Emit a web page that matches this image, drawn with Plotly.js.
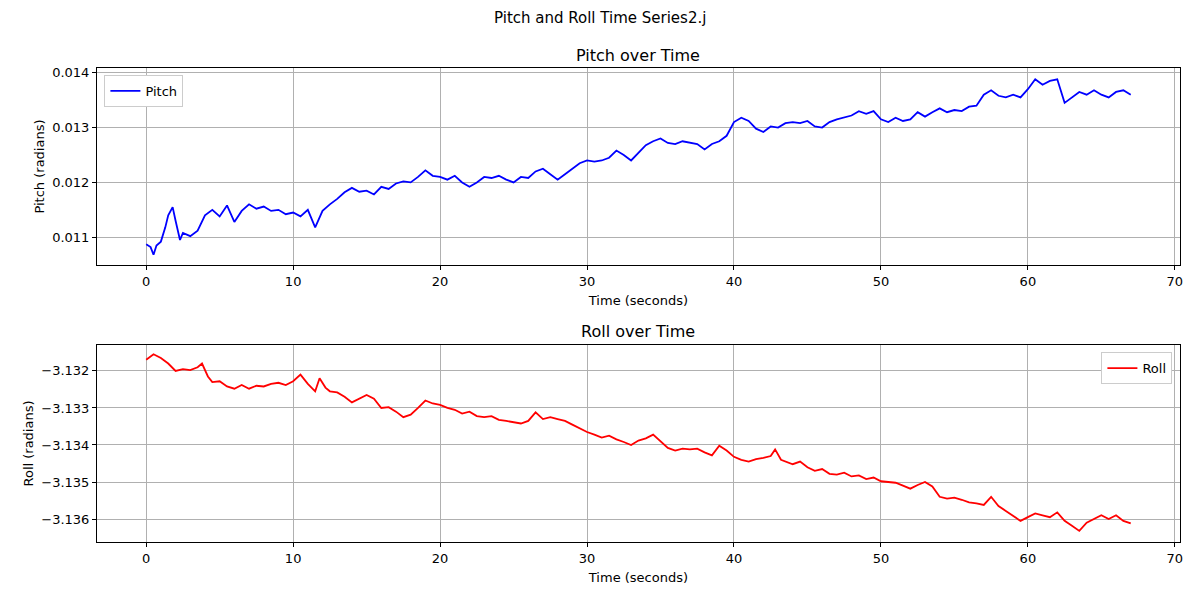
<!DOCTYPE html>
<html>
<head>
<meta charset="utf-8">
<script src="https://cdn.plot.ly/plotly-3.0.1.min.js"></script>
<style>body{margin:0;} #chart{width:1200px;height:600px;}</style>
</head>
<body>
<div id="chart"></div>
<script>
// Pitch series (time in seconds, value in radians)
var pitchTime = [0, 0.3, 0.5, 0.7, 1, 1.3, 1.5, 1.8, 2, 2.3, 2.5, 3, 3.5, 4, 4.5, 5, 5.5, 6, 6.5, 7, 7.5, 8, 8.5, 9, 9.5, 10, 10.5, 11, 11.5, 12, 12.5, 13, 13.5, 14, 14.5, 15, 15.5, 16, 16.5, 17, 17.5, 18, 18.5, 19, 19.5, 20, 20.5, 21, 21.5, 22, 22.5, 23, 23.5, 24, 24.5, 25, 25.5, 26, 26.5, 27, 27.5, 28, 28.5, 29, 29.5, 30, 30.5, 31, 31.5, 32, 32.5, 33, 33.5, 34, 34.5, 35, 35.5, 36, 36.5, 37, 37.5, 38, 38.5, 39, 39.5, 40, 40.5, 41, 41.5, 42, 42.5, 43, 43.5, 44, 44.5, 45, 45.5, 46, 46.5, 47, 47.5, 48, 48.5, 49, 49.5, 50, 50.5, 51, 51.5, 52, 52.5, 53, 53.5, 54, 54.5, 55, 55.5, 56, 56.5, 57, 57.5, 58, 58.5, 59, 59.5, 60, 60.5, 61, 61.5, 62, 62.5, 63, 63.5, 64, 64.5, 65, 65.5, 66, 66.5, 67];
var pitchVals = [0.01087, 0.01082, 0.01068, 0.01085, 0.01092, 0.01118, 0.01140, 0.01155, 0.01130, 0.01095, 0.01108, 0.01102, 0.01112, 0.01140, 0.01150, 0.01138, 0.01158, 0.01128, 0.01148, 0.01160, 0.01152, 0.01156, 0.01148, 0.01150, 0.01142, 0.01145, 0.01138, 0.01150, 0.01118, 0.01148, 0.01160, 0.01170, 0.01182, 0.01190, 0.01183, 0.01185, 0.01178, 0.01192, 0.01188, 0.01198, 0.01202, 0.01200, 0.01210, 0.01222, 0.01212, 0.01210, 0.01205, 0.01212, 0.01200, 0.01192, 0.01200, 0.01210, 0.01208, 0.01212, 0.01205, 0.01200, 0.01210, 0.01208, 0.01220, 0.01225, 0.01215, 0.01205, 0.01215, 0.01225, 0.01235, 0.01240, 0.01238, 0.01240, 0.01245, 0.01258, 0.01250, 0.01240, 0.01255, 0.01268, 0.01275, 0.01280, 0.01272, 0.01270, 0.01275, 0.01272, 0.01270, 0.01260, 0.01270, 0.01275, 0.01285, 0.01310, 0.01318, 0.01312, 0.01298, 0.01292, 0.01302, 0.01300, 0.01308, 0.01310, 0.01308, 0.01312, 0.01302, 0.01300, 0.01310, 0.01315, 0.01318, 0.01322, 0.01330, 0.01325, 0.01330, 0.01315, 0.01310, 0.01318, 0.01312, 0.01315, 0.01328, 0.01320, 0.01328, 0.01335, 0.01328, 0.01332, 0.01330, 0.01338, 0.01340, 0.01360, 0.01368, 0.01358, 0.01355, 0.01360, 0.01355, 0.01370, 0.01388, 0.01378, 0.01385, 0.01388, 0.01345, 0.01355, 0.01365, 0.01360, 0.01368, 0.01360, 0.01355, 0.01365, 0.01368, 0.01360, 0.01380, 0.01375];

// Roll series
var rollTime = [0, 0.5, 1, 1.5, 2, 2.5, 3, 3.5, 3.8, 4.2, 4.5, 5, 5.5, 6, 6.5, 7, 7.5, 8, 8.5, 9, 9.5, 10, 10.5, 11, 11.5, 11.8, 12.2, 12.5, 13, 13.5, 14, 14.5, 15, 15.5, 16, 16.5, 17, 17.5, 18, 18.5, 19, 19.5, 20, 20.5, 21, 21.5, 22, 22.5, 23, 23.5, 24, 24.5, 25, 25.5, 26, 26.5, 27, 27.5, 28, 28.5, 29, 29.5, 30, 30.5, 31, 31.5, 32, 32.5, 33, 33.5, 34, 34.5, 35, 35.5, 36, 36.5, 37, 37.5, 38, 38.5, 39, 39.5, 40, 40.5, 41, 41.5, 42, 42.5, 42.8, 43.2, 44, 44.5, 45, 45.5, 46, 46.5, 47, 47.5, 48, 48.5, 49, 49.5, 50, 50.5, 51, 51.5, 52, 52.5, 53, 53.5, 54, 54.5, 55, 55.5, 56, 56.5, 57, 57.5, 58, 58.5, 59, 59.5, 60, 60.5, 61, 61.5, 62, 62.5, 63, 63.5, 64, 64.5, 65, 65.5, 66, 66.5, 67];
var rollVals = [-3.13170, -3.13155, -3.13165, -3.13180, -3.13200, -3.13195, -3.13198, -3.13190, -3.13180, -3.13215, -3.13230, -3.13228, -3.13242, -3.13248, -3.13238, -3.13248, -3.13240, -3.13242, -3.13235, -3.13232, -3.13238, -3.13228, -3.13210, -3.13235, -3.13255, -3.13220, -3.13245, -3.13255, -3.13258, -3.13270, -3.13285, -3.13275, -3.13265, -3.13275, -3.13300, -3.13298, -3.13310, -3.13325, -3.13318, -3.13300, -3.13280, -3.13288, -3.13292, -3.13300, -3.13305, -3.13315, -3.13310, -3.13322, -3.13325, -3.13322, -3.13332, -3.13335, -3.13338, -3.13342, -3.13335, -3.13312, -3.13330, -3.13325, -3.13330, -3.13335, -3.13345, -3.13355, -3.13365, -3.13372, -3.13380, -3.13375, -3.13385, -3.13392, -3.13400, -3.13388, -3.13382, -3.13372, -3.13390, -3.13408, -3.13415, -3.13410, -3.13412, -3.13410, -3.13420, -3.13428, -3.13402, -3.13415, -3.13432, -3.13440, -3.13445, -3.13438, -3.13435, -3.13430, -3.13412, -3.13440, -3.13452, -3.13445, -3.13460, -3.13470, -3.13465, -3.13478, -3.13480, -3.13475, -3.13485, -3.13482, -3.13492, -3.13488, -3.13498, -3.13500, -3.13502, -3.13510, -3.13518, -3.13508, -3.13500, -3.13512, -3.13540, -3.13545, -3.13542, -3.13548, -3.13555, -3.13558, -3.13562, -3.13540, -3.13565, -3.13578, -3.13592, -3.13605, -3.13595, -3.13585, -3.13590, -3.13595, -3.13582, -3.13605, -3.13618, -3.13632, -3.13610, -3.13600, -3.13590, -3.13600, -3.13590, -3.13605, -3.13612, -3.13605];

var font = { family: "DejaVu Sans", size: 13, color: "black" };

var pitchTrace = {
    x: pitchTime, y: pitchVals, type: "scatter", mode: "lines", name: "Pitch",
    line: { color: "blue", width: 1.8 }, xaxis: "x", yaxis: "y", legend: "legend", showlegend: true
};
var rollTrace = {
    x: rollTime, y: rollVals, type: "scatter", mode: "lines", name: "Roll",
    line: { color: "red", width: 1.8 }, xaxis: "x2", yaxis: "y2", legend: "legend2", showlegend: true
};

function axis(extra) {
    var a = {
        showline: true, mirror: true, linecolor: "black", linewidth: 1,
        ticks: "outside", ticklen: 4, tickcolor: "black",
        showgrid: true, gridcolor: "#b0b0b0", gridwidth: 1, zeroline: false,
        tickfont: font
    };
    for (var k in extra) a[k] = extra[k];
    return a;
}

var layout = {
    width: 1200, height: 600,
    margin: { l: 0, r: 0, t: 0, b: 0 },
    paper_bgcolor: "white", plot_bgcolor: "white",
    font: font,
    showlegend: true,
    xaxis: axis({ domain: [0.0808, 0.9833], range: [-3.35, 70.35], dtick: 10, anchor: "y",
        title: { text: "Time (seconds)", font: font, standoff: 8 } }),
    yaxis: axis({ domain: [0.558, 0.887], range: [0.01049, 0.01409], dtick: 0.001, tickformat: ".3f", anchor: "x",
        title: { text: "Pitch (radians)", font: font, standoff: 4 } }),
    xaxis2: axis({ domain: [0.0808, 0.9833], range: [-3.35, 70.35], dtick: 10, anchor: "y2",
        title: { text: "Time (seconds)", font: font, standoff: 8 } }),
    yaxis2: axis({ domain: [0.0967, 0.425], range: [-3.13662, -3.1313], dtick: 0.001, tickformat: ".3f", anchor: "x2",
        title: { text: "Roll (radians)", font: font, standoff: 4 } }),
    legend: { x: 0.087, y: 0.875, xanchor: "left", yanchor: "top", bordercolor: "#cccccc", borderwidth: 1, bgcolor: "white", font: font },
    legend2: { x: 0.977, y: 0.413, xanchor: "right", yanchor: "top", bordercolor: "#cccccc", borderwidth: 1, bgcolor: "white", font: font },
    annotations: [
        { text: "Pitch and Roll Time Series2.j", x: 0.5, y: 1 - 18 / 600, xref: "paper", yref: "paper", yanchor: "middle", showarrow: false, font: { family: "DejaVu Sans", size: 15 } },
        { text: "Pitch over Time", x: 0.532, y: 1 - 55 / 600, xref: "paper", yref: "paper", yanchor: "middle", showarrow: false, font: { family: "DejaVu Sans", size: 16 } },
        { text: "Roll over Time", x: 0.532, y: 1 - 331 / 600, xref: "paper", yref: "paper", yanchor: "middle", showarrow: false, font: { family: "DejaVu Sans", size: 16 } }
    ]
};

Plotly.newPlot("chart", [pitchTrace, rollTrace], layout, { displayModeBar: false });
</script>
</body>
</html>
